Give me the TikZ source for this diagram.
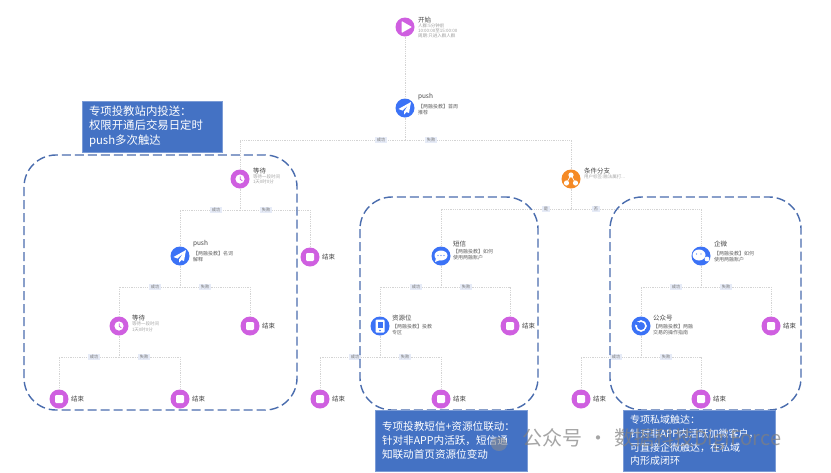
\documentclass[tikz,border=0pt]{standalone}
\usepackage{fontspec}
\setmainfont{Noto Sans CJK SC}
\usetikzlibrary{calc}
\definecolor{purp}{HTML}{CF5FE0}
\definecolor{blu}{HTML}{3B72F6}
\definecolor{org}{HTML}{F58A25}
\definecolor{boxb}{HTML}{4472C4}
\definecolor{dashb}{HTML}{4A6DAE}
\definecolor{lnk}{HTML}{D4D4D4}
\definecolor{tagb}{HTML}{E6EBF7}
\tikzset{
  x=1pt,y=-1pt,
  every node/.style={inner sep=0pt,outer sep=0pt},
  step circle/.style={circle,minimum size=19pt},
  pnode/.style={step circle,fill=purp},
  bnode/.style={step circle,fill=blu},
  onode/.style={step circle,fill=org},
  link/.style={draw=lnk,line width=0.8pt,densely dotted},
  tag/.style={fill=tagb,text=black!55,font=\fontsize{4.2}{5}\selectfont,inner xsep=1.5pt,inner ysep=1pt},
  ttl/.style={anchor=west,font=\fontsize{6.5}{7.5}\selectfont,text=black!72},
  sub/.style={anchor=north west,align=left,font=\fontsize{5}{6}\selectfont,text=black!62},
  subl/.style={anchor=north west,align=left,font=\fontsize{4.5}{5.2}\selectfont,text=black!35},
  region/.style={draw=dashb,line width=1.4pt,dash pattern=on 9pt off 4pt,rounded corners=32pt},
  note/.style={fill=boxb,draw=boxb!70!white,line width=0.5pt,anchor=north west,text=white,align=left,inner xsep=7pt,inner ysep=1pt},
}
\newcommand{\fwcomma}{\char"FF0C\relax}
\newcommand{\fwcolon}{\char"FF1A\relax}
\newcommand{\squareicon}[1]{\fill[white,rounded corners=1.2pt] ($(#1)+(-4,-4)$) rectangle ($(#1)+(4,4)$);}
\newcommand{\planeicon}[1]{\fill[white] ($(#1)+(6,-6)$) -- ($(#1)+(-6.5,1)$) -- ($(#1)+(-2.5,2.5)$) -- ($(#1)+(3,-2.5)$) -- ($(#1)+(-1,3.5)$) -- ($(#1)+(-1,6.5)$) -- ($(#1)+(1.5,4)$) -- ($(#1)+(4,5)$) -- cycle;}
\newcommand{\clockicon}[1]{\fill[white] (#1) circle (4.6pt); \draw[purp,line width=0.8pt] ($(#1)+(0.3,-2.6)$) -- ($(#1)+(0.3,0.3)$) -- ($(#1)+(2.3,1.8)$);}
\newcommand{\finishnode}[3]{\node[pnode] (#1) at (#2,#3) {}; \squareicon{#1} \node[ttl] at (#2+12,#3) {结束};}
\newcommand{\lnktag}[3]{\node[tag] at (#1,#2) {#3};}
\begin{document}
\begin{tikzpicture}
\useasboundingbox (0,0) rectangle (831,472);
\fill[white] (0,0) rectangle (831,472);
% nodes
\node[pnode] (start) at (405,27) {};
\node[bnode] (push1) at (405,108) {};
\node[pnode] (wait1) at (240,179) {};
\node[onode] (cond) at (571,179) {};
\node[bnode] (push2) at (180,256) {};
\node[pnode] (wait2) at (119,326) {};
\node[bnode] (sms) at (441,256) {};
\node[bnode] (res) at (380,326) {};
\node[bnode] (qw) at (701,256) {};
\node[bnode] (gzh) at (641,326) {};
\finishnode{e1}{310}{257}
\finishnode{e2}{250}{326}
\finishnode{e3}{59}{399}
\finishnode{e4}{180}{399}
\finishnode{e5}{510}{326}
\finishnode{e6}{320}{399}
\finishnode{e7}{441}{399}
\finishnode{e8}{771}{326}
\finishnode{e9}{581}{399}
\finishnode{e10}{701}{399}
% junctions
\coordinate (j1) at (405,140);
\coordinate (j2) at (240,210);
\coordinate (j3) at (180,287);
\coordinate (j4) at (119,357);
\coordinate (j5) at (571,209);
\coordinate (j6) at (441,287);
\coordinate (j7) at (380,357);
\coordinate (j8) at (701,287);
\coordinate (j9) at (641,357);
% connectors
\draw[link] (start) -- (push1);
\draw[link] (push1) -- (j1);
\draw[link] (j1) -| (wait1);
\draw[link] (j1) -| (cond);
\draw[link] (wait1) -- (j2);
\draw[link] (j2) -| (push2);
\draw[link] (j2) -| (e1);
\draw[link] (push2) -- (j3);
\draw[link] (j3) -| (wait2);
\draw[link] (j3) -| (e2);
\draw[link] (wait2) -- (j4);
\draw[link] (j4) -| (e3);
\draw[link] (j4) -| (e4);
\draw[link] (cond) -- (j5);
\draw[link] (j5) -| (sms);
\draw[link] (j5) -| (qw);
\draw[link] (sms) -- (j6);
\draw[link] (j6) -| (res);
\draw[link] (j6) -| (e5);
\draw[link] (res) -- (j7);
\draw[link] (j7) -| (e6);
\draw[link] (j7) -| (e7);
\draw[link] (qw) -- (j8);
\draw[link] (j8) -| (gzh);
\draw[link] (j8) -| (e8);
\draw[link] (gzh) -- (j9);
\draw[link] (j9) -| (e9);
\draw[link] (j9) -| (e10);
% tags
\lnktag{381}{140}{成功}\lnktag{431}{140}{失败}
\lnktag{216}{210}{成功}\lnktag{266}{210}{失败}
\lnktag{155}{287}{成功}\lnktag{205}{287}{失败}
\lnktag{94}{357}{成功}\lnktag{144}{357}{失败}
\lnktag{546}{209}{是}\lnktag{596}{209}{否}
\lnktag{416}{287}{成功}\lnktag{466}{287}{失败}
\lnktag{355}{357}{成功}\lnktag{405}{357}{失败}
\lnktag{676}{287}{成功}\lnktag{726}{287}{失败}
\lnktag{616}{357}{成功}\lnktag{666}{357}{失败}
% icons
\fill[white,rounded corners=0.8pt] (401.5,21) -- (412,27) -- (401.5,33) -- cycle;
\planeicon{push1}\planeicon{push2}
\clockicon{wait1}\clockicon{wait2}
% org tree
\fill[white] (571,175) circle (2.6pt) (566.5,183) circle (2.6pt) (575.5,183) circle (2.6pt);
\draw[white,line width=0.7pt] (571,175) -- (566.5,183) (571,175) -- (575.5,183);
% sms icon
\fill[white] (441,255.5) ellipse (6.5pt and 5pt);
\fill[white] (436,258) -- (435,262) -- (440,260) -- cycle;
\fill[blu] (438,255.5) circle (0.7pt) (441,255.5) circle (0.7pt) (444,255.5) circle (0.7pt);
% res icon
\fill[white,rounded corners=1pt] (375.5,319.5) rectangle (384.5,332.5);
\fill[blu] (377.5,322) rectangle (382.5,328);
\fill[blu] (380,330.5) circle (0.8pt);
% qw icon
\fill[white] (699,255) ellipse (6.5pt and 5.5pt);
\fill[white] (707,259) circle (2.4pt);
\fill[blu] (696.5,254) circle (0.7pt) (701,254) circle (0.7pt);
% gzh icon
\draw[white,line width=1.6pt] (641,326) circle (5pt);
\fill[blu] (636,322) rectangle (639,325);
\fill[blu] (645,329) rectangle (648,332);
% texts
\node[ttl] at (418,20) {开始};
\node[subl,text=black!38] at (418,23.5) {人群:5分钟前\\10:00:00至15:00:00\\周期:只进入群人群};
\node[ttl] at (418,97) {push};
\node[sub] at (418,104) {【两融投教】首周\\推荐};
\node[ttl] at (253,171) {等待};
\node[subl] at (253,174.5) {等待一段时间\\1天0时0分};
\node[ttl] at (193,244) {push};
\node[sub] at (193,251.5) {【两融投教】名词\\解释};
\node[ttl] at (132,318.5) {等待};
\node[subl] at (132,322) {等待一段时间\\1天0时0分};
\node[ttl] at (584,171) {条件分支};
\node[subl] at (584,175) {用户标签:融法属打...};
\node[ttl] at (453,244) {短信};
\node[sub] at (453,249.5) {【两融投教】如何\\使用两融账户};
\node[ttl] at (392,318) {资源位};
\node[sub] at (392,324) {【两融投教】投教\\专区};
\node[ttl] at (714,244) {企微};
\node[sub] at (714,251.5) {【两融投教】如何\\使用两融账户};
\node[ttl] at (653,318) {公众号};
\node[sub] at (653,324) {【两融投教】两融\\交易的操作指南};
% regions
\draw[region] (24,155) rectangle (297,410);
\draw[region] (360,197) rectangle (538,410);
\draw[region] (610,197) rectangle (801,410);
% notes
\node[note,text width=126pt,minimum height=51pt,font=\fontsize{11.4}{14.5}\selectfont] (n1) at (82,101) {专项投教站内投送\fwcolon\\权限开通后交易日定时\\push多次触达};
\node[note,text width=138pt,minimum height=61pt,font=\fontsize{10.6}{14}\selectfont] (n2) at (375,410) {专项投教短信+资源位联动\fwcolon\\针对非APP内活跃\fwcomma 短信通\\知联动首页资源位变动};
\node[note,text width=138pt,minimum height=61pt,font=\fontsize{10}{13.7}\selectfont] (n3) at (623,410) {专项私域触达\fwcolon\\针对非APP内活跃加微客户\fwcomma\\可直接企微触达\fwcomma 在私域\\内形成闭环};
% watermark
\fill[black!45,opacity=0.55] (499,444) ellipse (8pt and 7pt);
\node[anchor=west,text=black!50,opacity=0.7,font=\fontsize{20}{22}\selectfont] (wm) at (522,440) {公众号\hspace{6pt}·\hspace{6pt}数据科技DigiForce};
\end{tikzpicture}
\end{document}
